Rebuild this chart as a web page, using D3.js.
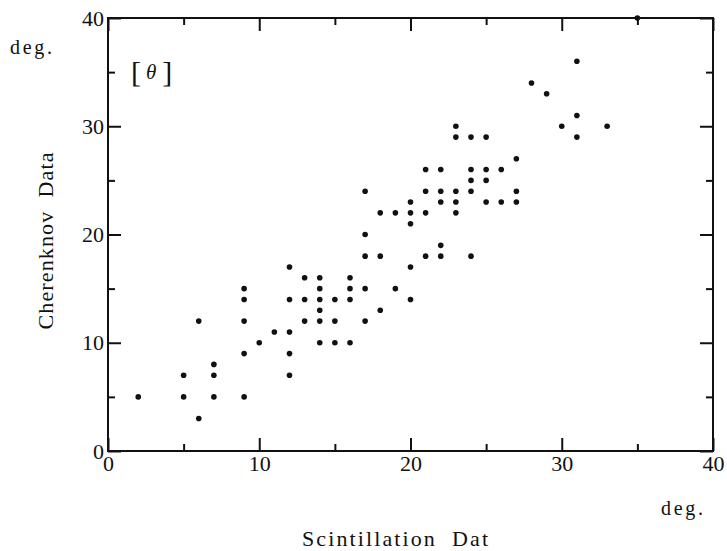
<!DOCTYPE html>
<html>
<head>
<meta charset="utf-8">
<script src="https://cdn.jsdelivr.net/npm/d3@7"></script>
<style>
  body { margin: 0; background: #fff; }
  text { font-family: "Liberation Serif", "DejaVu Serif", serif; fill: #111; }
</style>
</head>
<body>
<div id="chart"></div>
<script>
// Scintillation (x) vs Cherenknov (y), degrees
var scint = [2, 5, 5, 6, 6, 7, 7, 7, 9, 9, 9, 9, 9, 10, 11,
    12, 12, 12, 12, 12, 13, 13, 13, 14, 14, 14, 14, 14, 14,
    15, 15, 15, 16, 16, 16, 16, 17, 17, 17, 17, 17, 18, 18, 18,
    19, 19, 20, 20, 20, 20, 20, 21, 21, 21, 21, 22, 22, 22, 22, 22,
    23, 23, 23, 23, 23, 24, 24, 24, 24, 24, 25, 25, 25, 25, 26, 26,
    27, 27, 27, 28, 29, 30, 31, 31, 31, 33, 35];
var cheren = [5, 7, 5, 12, 3, 8, 7, 5, 15, 14, 12, 9, 5, 10, 11,
    17, 14, 11, 9, 7, 16, 14, 12, 16, 15, 14, 13, 12, 10,
    14, 12, 10, 16, 15, 14, 10, 24, 20, 18, 15, 12, 22, 18, 13,
    22, 15, 23, 22, 21, 17, 14, 26, 24, 22, 18, 26, 24, 23, 19, 18,
    30, 29, 24, 23, 22, 29, 26, 25, 24, 18, 29, 26, 25, 23, 26, 23,
    27, 24, 23, 34, 33, 30, 36, 31, 29, 30, 40];
var majorTicks = [0, 10, 20, 30, 40];
var minorTicks = [5, 15, 25, 35];

var width = 727, height = 551;
var margin = { top: 18, right: 14, bottom: 100, left: 108 };
var w = width - margin.left - margin.right;
var h = height - margin.top - margin.bottom;

var svg = d3.select('#chart').append('svg')
    .attr('width', width)
    .attr('height', height);

var g = svg.append('g')
    .attr('transform', 'translate(' + margin.left + ',' + margin.top + ')');

var x = d3.scaleLinear().domain([0, 40]).range([0, w]);
var y = d3.scaleLinear().domain([0, 40]).range([h, 0]);

function styleAxis(sel) {
    sel.select('.domain').remove();
    sel.selectAll('line').attr('stroke', '#111').attr('stroke-width', 2);
    sel.selectAll('text')
        .style('font-size', '22px')
        .attr('fill', '#111');
}

// bottom
g.append('g').attr('transform', 'translate(0,' + h + ')')
    .call(d3.axisBottom(x).tickValues(majorTicks).tickSize(-13).tickPadding(4).tickFormat(d3.format('d')))
    .call(styleAxis);
g.append('g').attr('transform', 'translate(0,' + h + ')')
    .call(d3.axisBottom(x).tickValues(minorTicks).tickSize(-7).tickFormat(''))
    .call(styleAxis);
// top
g.append('g')
    .call(d3.axisTop(x).tickValues(majorTicks).tickSize(-13).tickFormat(''))
    .call(styleAxis);
g.append('g')
    .call(d3.axisTop(x).tickValues(minorTicks).tickSize(-7).tickFormat(''))
    .call(styleAxis);
// left
g.append('g')
    .call(d3.axisLeft(y).tickValues(majorTicks).tickSize(-13).tickPadding(4).tickFormat(d3.format('d')))
    .call(styleAxis);
g.append('g')
    .call(d3.axisLeft(y).tickValues(minorTicks).tickSize(-7).tickFormat(''))
    .call(styleAxis);
// right
g.append('g').attr('transform', 'translate(' + w + ',0)')
    .call(d3.axisRight(y).tickValues(majorTicks).tickSize(-13).tickFormat(''))
    .call(styleAxis);
g.append('g').attr('transform', 'translate(' + w + ',0)')
    .call(d3.axisRight(y).tickValues(minorTicks).tickSize(-7).tickFormat(''))
    .call(styleAxis);

// frame
g.append('rect')
    .attr('width', w)
    .attr('height', h)
    .attr('fill', 'none')
    .attr('stroke', '#111')
    .attr('stroke-width', 2);

// points
g.selectAll('circle.pt')
    .data(d3.range(scint.length))
    .join('circle')
    .attr('class', 'pt')
    .attr('cx', function (i) { return x(scint[i]); })
    .attr('cy', function (i) { return y(cheren[i]); })
    .attr('r', 2.8)
    .attr('fill', '#111');

// [θ]
var lab = svg.append('text')
    .attr('x', 131)
    .attr('y', 82)
    .style('font-size', '30px');
lab.append('tspan').text('[');
lab.append('tspan').attr('dx', 5).attr('dy', -3).style('font-size', '21px').style('font-style', 'italic').text('θ');
lab.append('tspan').attr('dx', 6).attr('dy', 3).text(']');

// units
svg.append('text')
    .attr('x', 10).attr('y', 54)
    .attr('textLength', 42)
    .style('font-size', '20px')
    .text('deg.');
svg.append('text')
    .attr('x', 661).attr('y', 515)
    .attr('textLength', 42)
    .style('font-size', '20px')
    .text('deg.');

// axis titles
svg.append('text')
    .attr('x', 302).attr('y', 546)
    .attr('textLength', 186)
    .style('font-size', '22px')
    .style('white-space', 'pre')
    .text('Scintillation  Dat');

svg.append('text')
    .attr('transform', 'translate(53,241) rotate(-90)')
    .attr('text-anchor', 'middle')
    .attr('textLength', 177)
    .style('font-size', '22px')
    .style('white-space', 'pre')
    .text('Cherenknov  Data');
</script>
</body>
</html>
